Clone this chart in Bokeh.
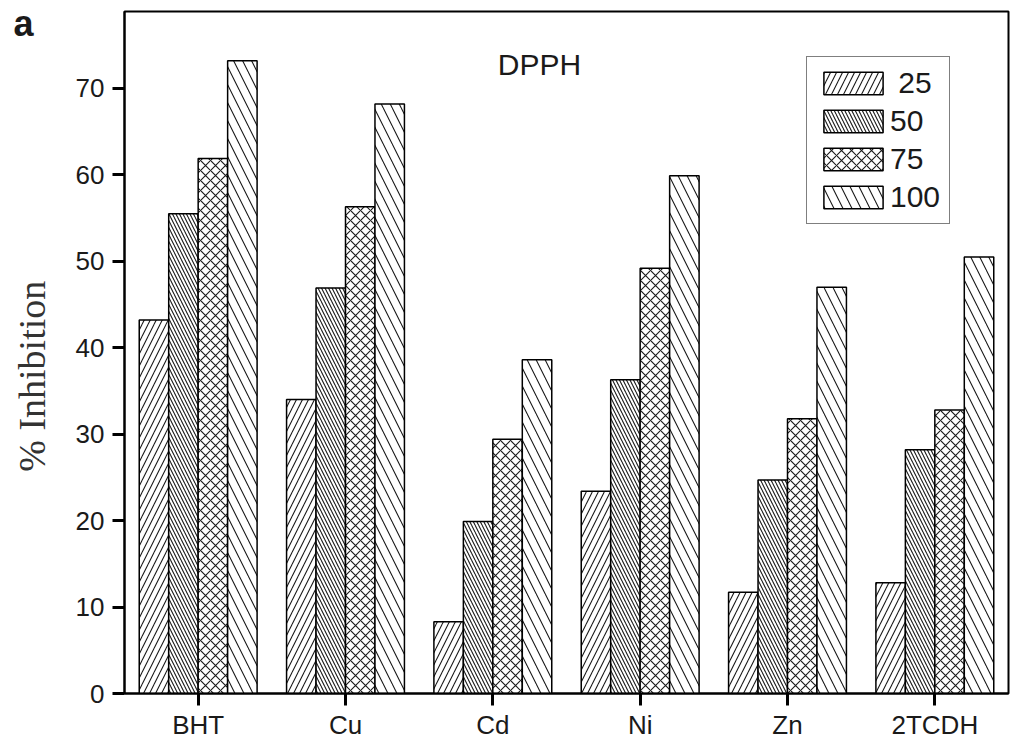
from bokeh.plotting import figure
from bokeh.models import ColumnDataSource, FactorRange, Range1d, FixedTicker, Label, Legend, Title
from bokeh.transform import dodge
from bokeh.embed import file_html
from bokeh.resources import INLINE

categories = ["BHT", "Cu", "Cd", "Ni", "Zn", "2TCDH"]
series_names = ["25", "50", "75", "100"]
s25 = [43.2, 34.0, 8.3, 23.4, 11.7, 12.8]
s50 = [55.5, 46.9, 19.9, 36.3, 24.7, 28.2]
s75 = [61.9, 56.3, 29.4, 49.2, 31.8, 32.8]
s100 = [73.2, 68.2, 38.6, 59.9, 47.0, 50.5]
y_ticks = [0, 10, 20, 30, 40, 50, 60, 70]

source = ColumnDataSource(dict(cat=categories, s25=s25, s50=s50, s75=s75, s100=s100))

p = figure(
    width=1013, height=742,
    x_range=FactorRange(factors=categories, range_padding=0),
    y_range=Range1d(0, 78.9),
    output_backend="svg", toolbar_location=None,
    min_border_left=124, min_border_right=5, min_border_top=11, min_border_bottom=47,
    background_fill_color="white", border_fill_color="white",
)
p.xgrid.visible = False
p.ygrid.visible = False
p.outline_line_color = "black"
p.outline_line_width = 2

styles = [
    ("s25", -0.3, "/", 12),
    ("s50", -0.1, "\\", 7),
    ("s75", 0.1, "x", 10),
    ("s100", 0.3, "\\", 18),
]
items = []
for (col, off, pat, sc), name in zip(styles, series_names):
    r = p.vbar(x=dodge("cat", off, range=p.x_range), top=col, width=0.2, source=source,
               fill_color="white", hatch_pattern=pat, hatch_scale=sc, hatch_color="#1a1a1a",
               hatch_weight=1.1, line_color="black", line_width=1.5)
    lab = "\u00a0" + name if name == "25" else name
    items.append((lab, [r]))

legend = Legend(items=items, location=(682, 469), margin=0, padding=9, spacing=4,
                glyph_width=74, glyph_height=28, label_standoff=0,
                label_text_font="Liberation Sans", label_text_font_size="30px",
                label_text_color="#1a1a1a", label_height=28,
                border_line_color="black", border_line_width=1.5,
                background_fill_color="white", background_fill_alpha=1)
p.add_layout(legend, "center")

for ax in (p.xaxis[0], p.yaxis[0]):
    ax.axis_line_color = "black"
    ax.axis_line_width = 2
    ax.major_tick_line_color = "black"
    ax.major_tick_line_width = 3
    ax.major_tick_in = 0
    ax.major_tick_out = 12
    ax.minor_tick_line_color = None
    ax.major_label_text_font = "Liberation Sans"
    ax.major_label_text_font_size = "26px"
    ax.major_label_text_color = "#1a1a1a"

p.xaxis.major_label_standoff = 4
p.yaxis.ticker = FixedTicker(ticks=y_ticks)
p.yaxis.major_label_standoff = 8
p.yaxis.axis_label = "% Inhibition" + "\u00a0" * 5
p.yaxis.axis_label_text_font = "Liberation Serif"
p.yaxis.axis_label_text_font_size = "38px"
p.yaxis.axis_label_text_font_style = "normal"
p.yaxis.axis_label_text_color = "#333333"
p.yaxis.axis_label_standoff = 20

p.add_layout(Label(x=2.817, y=72.8, text="DPPH", text_align="center", text_baseline="middle",
                   text_font="Liberation Sans", text_font_size="30px", text_color="#1a1a1a"))

panel_tag = Title(text="a", align="left", vertical_align="bottom", offset=-111, standoff=-64,
                  text_font="Liberation Sans", text_font_size="36px", text_font_style="bold",
                  text_color="#1a1a1a")
p.add_layout(panel_tag, "above")

open("out.html", "w").write(file_html(p, INLINE))
